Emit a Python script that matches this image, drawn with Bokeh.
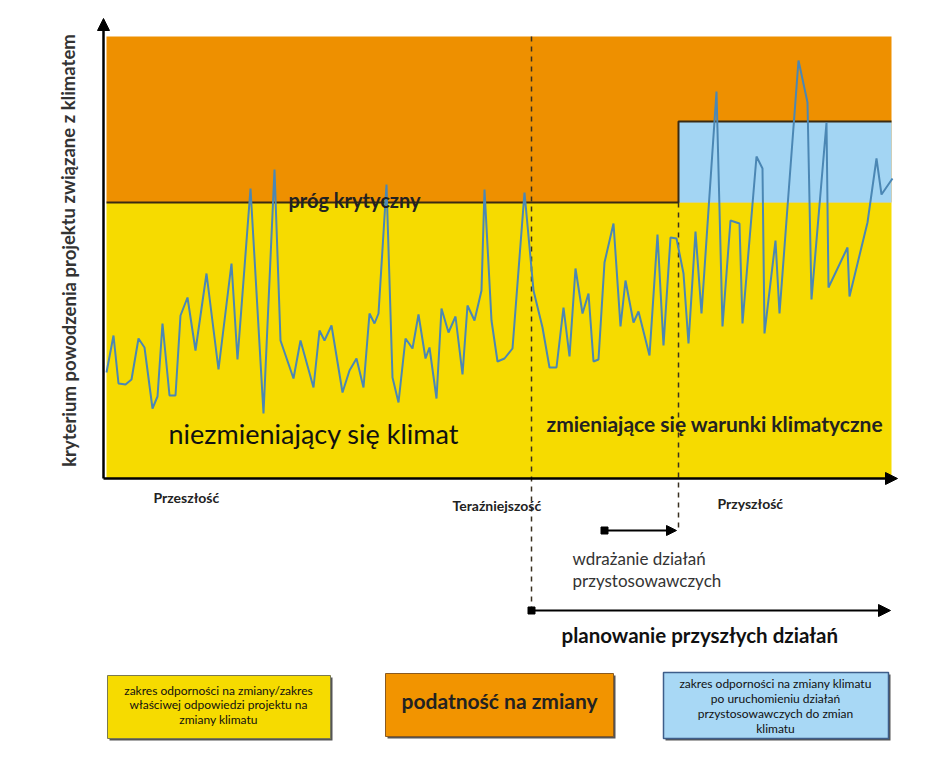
from bokeh.plotting import figure
from bokeh.models import Range1d, Arrow, NormalHead
from bokeh.core.properties import value
from bokeh.embed import file_html
from bokeh.resources import INLINE

# time index (horizontal) and success-criterion values
time = [3, 10, 15, 22, 28, 35, 41, 49, 54, 59, 66, 72, 77, 84, 92, 103, 115, 128, 134, 147,
        160, 171, 177, 190, 197, 210, 216, 221, 228, 239, 246, 253, 260, 266, 271, 275, 283, 289,
        295, 302, 309, 315, 322, 326, 333, 338, 345, 352, 359, 364, 371, 378, 381, 388, 394, 401,
        409, 421, 430, 439, 446, 453, 460, 466, 472, 479, 485, 490, 495, 501, 510, 517, 522, 530,
        535, 546, 554, 560, 567, 573, 580, 585, 592, 598, 613, 619, 627, 636, 639, 653, 659, 661,
        672, 676, 695, 704, 708, 723, 725, 744, 746, 764, 773, 778, 789]
criterion = [106, 143, 95, 94, 99, 140, 131, 70, 82, 155, 83, 83, 163, 181, 128, 205, 109, 215, 119, 290,
             65, 309, 138, 100, 138, 91, 148, 138, 153, 86, 108, 120, 91, 165, 155, 165, 294, 101,
             76, 140, 130, 164, 120, 131, 80, 170, 146, 162, 104, 173, 158, 188, 289, 158, 117, 120,
             130, 286, 188, 151, 111, 111, 171, 122, 210, 165, 185, 117, 119, 216, 255, 152, 198, 156,
             167, 123, 244, 133, 241, 240, 205, 135, 247, 165, 387, 152, 258, 255, 155, 322, 310, 145,
             238, 165, 418, 376, 179, 356, 191, 231, 182, 256, 320, 284, 300]

# zones
area_start, area_end = 3, 788
threshold = 276
threshold_after = 357
zone_top = 442
adapt_time = 575
present_time = 428

YELLOW = "#F6DB00"
ORANGE = "#EE9000"
BLUE = "#A3D5F3"
FONT = value("Lato")

p = figure(width=928, height=758, x_range=Range1d(-103, 825), y_range=Range1d(-280, 478),
           output_backend="svg", toolbar_location=None, min_border=0,
           x_axis_type=None, y_axis_type=None)
p.outline_line_color = None
p.background_fill_color = "white"
p.border_fill_color = "white"

# zones
p.quad(left=[area_start], right=[area_end], bottom=[threshold], top=[zone_top],
       fill_color=ORANGE, line_color=None)
p.quad(left=[area_start], right=[area_end], bottom=[0], top=[threshold],
       fill_color=YELLOW, line_color=None)
p.quad(left=[adapt_time], right=[area_end], bottom=[threshold], top=[threshold_after],
       fill_color=BLUE, line_color=None)

# critical threshold (step)
p.line(x=[area_start, adapt_time, adapt_time, area_end],
       y=[threshold, threshold, threshold_after, threshold_after],
       line_color="#3A2A12", line_width=2)

# dashed time markers
p.segment(x0=[present_time], y0=[zone_top], x1=[present_time], y1=[-134],
          line_color="#3A3020", line_width=1.5, line_dash="5 5")
p.segment(x0=[adapt_time], y0=[threshold], x1=[adapt_time], y1=[-52],
          line_color="#3A3020", line_width=1.5, line_dash="5 5")

# series
p.line(x=time, y=criterion, line_color="#4B87B4", line_width=2)

# axes arrows
p.add_layout(Arrow(end=NormalHead(size=12, fill_color="black", line_color="black"),
                   x_start=0, y_start=0, x_end=0, y_end=460, line_width=2.5, line_color="black"))
p.add_layout(Arrow(end=NormalHead(size=12, fill_color="black", line_color="black"),
                   x_start=0, y_start=0, x_end=794, y_end=0, line_width=2.5, line_color="black"))

# implementation and planning arrows
p.add_layout(Arrow(end=NormalHead(size=10, fill_color="black", line_color="black"),
                   x_start=501, y_start=-52, x_end=573, y_end=-52, line_width=2, line_color="black"))
p.add_layout(Arrow(end=NormalHead(size=12, fill_color="black", line_color="black"),
                   x_start=present_time, y_start=-132, x_end=787, y_end=-132, line_width=2, line_color="black"))
p.scatter(x=[501, present_time], y=[-52, -132], marker="square", size=7,
          fill_color="black", line_color="black")

# texts in chart
p.text(x=[185], y=[279], text=["próg krytyczny"], text_font=FONT, text_font_size="20px",
       text_font_style="bold", text_color="#222222", text_baseline="middle", text_align="left")
p.text(x=[65], y=[45], text=["niezmieniający się klimat"], text_font=FONT, text_font_size="27px",
       text_color="#111111", text_baseline="middle", text_align="left")
p.text(x=[443], y=[55], text=["zmieniające się warunki klimatyczne"], text_font=FONT,
       text_font_size="21px", text_font_style="bold", text_color="#222222",
       text_baseline="middle", text_align="left")
p.text(x=[-35], y=[228], text=["kryterium powodzenia projektu związane z klimatem"], text_font=FONT,
       text_font_size="18.5px", text_font_style="bold", text_color="#333333",
       text_baseline="middle", text_align="center", angle=1.5708)

# time labels
p.text(x=[50, 349, 614], y=[-19, -27, -25], text=["Przeszłość", "Teraźniejszość", "Przyszłość"],
       text_font=FONT, text_font_size="14px", text_font_style="bold", text_color="#222222",
       text_baseline="middle", text_align="left")
p.text(x=[469, 469], y=[-80, -102], text=["wdrażanie działań", "przystosowawczych"],
       text_font=FONT, text_font_size="17px", text_color="#333333",
       text_baseline="middle", text_align="left")
p.text(x=[458], y=[-156], text=["planowanie przyszłych działań"], text_font=FONT,
       text_font_size="20.5px", text_font_style="bold", text_color="#111111",
       text_baseline="middle", text_align="left")

# legend boxes (shadow + box)
p.quad(left=[6, 284, 562], right=[229, 512, 787], bottom=[-262, -260, -262], top=[-199, -197, -196],
       fill_color="#555555", line_color=None)
p.quad(left=[4, 282], right=[227, 510], bottom=[-260, -258], top=[-197, -195],
       fill_color=[YELLOW, "#F29400"], line_color=["#7A7A50", "#8A5A20"], line_width=1)
p.quad(left=[560], right=[785], bottom=[-260], top=[-194],
       fill_color="#A8D8F5", line_color="#3E5E8A", line_width=1.5)

p.text(x=[115, 115, 115], y=[-212, -226, -241],
       text=["zakres odporności na zmiany/zakres", "właściwej odpowiedzi projektu na", "zmiany klimatu"],
       text_font=FONT, text_font_size="12px", text_color="#111111",
       text_baseline="middle", text_align="center")
p.text(x=[396], y=[-222], text=["podatność na zmiany"], text_font=FONT, text_font_size="21px",
       text_font_style="bold", text_color="#222222", text_baseline="middle", text_align="center")
p.text(x=[672, 672, 672, 672], y=[-205, -220, -235, -250],
       text=["zakres odporności na zmiany klimatu", "po uruchomieniu działań",
             "przystosowawczych do zmian", "klimatu"],
       text_font=FONT, text_font_size="12px", text_color="#111111",
       text_baseline="middle", text_align="center")

open("out.html", "w").write(file_html(p, INLINE))
